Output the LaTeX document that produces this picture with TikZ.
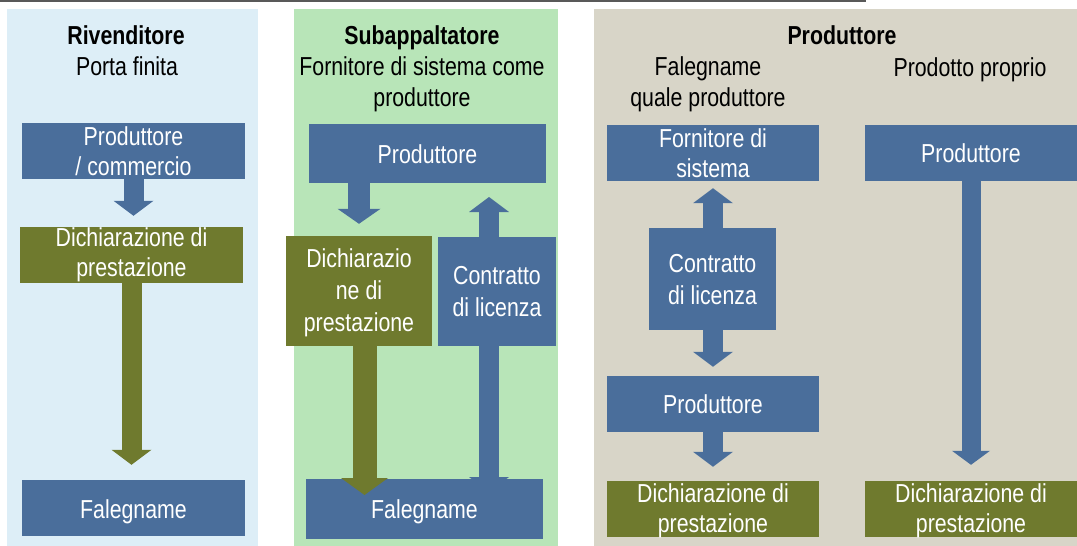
\documentclass[tikz,border=0pt]{standalone}
\usepackage{fontspec}
\setmainfont{Liberation Sans}[FakeStretch=0.82]
\usetikzlibrary{arrows.meta}
\definecolor{boxblue}{HTML}{4A6E9B}
\definecolor{boxolive}{HTML}{6F7A2E}
\definecolor{paneblue}{HTML}{DDEEF7}
\definecolor{panegreen}{HTML}{B8E5B8}
\definecolor{panegrey}{HTML}{D8D5C8}
\pgfdeclarelayer{back}
\pgfsetlayers{back,main}
\tikzset{
    blbox/.style={fill=boxblue, inner sep=0pt},
    olbox/.style={fill=boxolive, inner sep=0pt},
    boxtext/.style={text=white, align=center, anchor=base, inner sep=0pt,
        font=\fontsize{26}{30}\selectfont},
    loosetext/.style={boxtext, font=\fontsize{26}{32}\selectfont},
    head/.style={anchor=base, inner sep=0pt, font=\bfseries\fontsize{26}{30}\selectfont},
    sub/.style={anchor=base, align=center, inner sep=0pt, font=\fontsize{26}{31}\selectfont},
    bigarrow/.style={line width=20pt, -{Triangle[width=40pt,length=15pt,line width=0pt]}},
    bigarrows/.style={line width=20pt, {Triangle[width=40pt,length=15pt,line width=0pt]}-{Triangle[width=40pt,length=15pt,line width=0pt]}},
    widearrow/.style={line width=24pt, -{Triangle[width=47pt,length=17pt,line width=0pt]}}
}
\begin{document}
\begin{tikzpicture}[x=1pt,y=-1pt]
    \useasboundingbox (0,0) rectangle (1077,546);

    % panels
    \begin{pgfonlayer}{back}
        \fill[paneblue] (7,8.5) rectangle (258,546);
        \fill[panegreen] (294,8.5) rectangle (558,546);
        \fill[panegrey] (594,8.5) rectangle (1077,546);
    \end{pgfonlayer}
    \draw[black!65, line width=2pt] (0,1) -- (866,1);

    % titles (multi-line texts sit on their last baseline)
    \node[head] (rivT) at (126,45) {Rivenditore};
    \node[sub] (rivS) at (127,75) {Porta finita};
    \node[head] (subT) at (422,45) {Subappaltatore};
    \node[sub] (subS) at (422,106.5) {Fornitore di sistema come\\produttore};
    \node[head] (proT) at (842,45) {Produttore};
    \node[sub] (proS) at (708,106.5) {Falegname\\quale produttore};
    \node[sub] (proS2) at (970,76) {Prodotto proprio};

    % Rivenditore
    \node[blbox, minimum width=223pt, minimum height=56pt] (prodA) at (133.5,151) {};
    \node[olbox, minimum width=223pt, minimum height=56pt] (declA) at (131.5,255) {};
    \node[blbox, minimum width=223pt, minimum height=56pt] (falA) at (133.5,508) {};
    \node[boxtext] (prodA-t) at (133.5,175) {Produttore\\/ commercio};
    \node[boxtext] (declA-t) at (131.5,276.5) {Dichiarazione di\\prestazione};
    \node[boxtext] (falA-t) at (133.5,518) {Falegname};
    \draw[bigarrow, boxblue, shorten >=11pt] (prodA.south) -- (prodA.south |- declA.north);
    \draw[bigarrow, boxolive, shorten >=15pt] (declA.south) -- (declA.south |- falA.north);

    % Subappaltatore
    \node[blbox, minimum width=237pt, minimum height=59pt] (prodB) at (427.5,153.5) {};
    \node[olbox, minimum width=146pt, minimum height=110pt] (declB) at (359,291) {};
    \node[blbox, minimum width=118pt, minimum height=109pt] (contB) at (497,291.5) {};
    \node[blbox, minimum width=237pt, minimum height=60pt] (falB) at (424.5,509) {};
    \node[boxtext] (prodB-t) at (427.5,163.5) {Produttore};
    \node[loosetext] (declB-t) at (359,331.5) {Dichiarazio\\ne di\\prestazione};
    \node[loosetext] (contB-t) at (497,316) {Contratto\\di licenza};
    \node[boxtext] (falB-t) at (424.5,518) {Falegname};
    \coordinate (licTop) at (489,197);
    \coordinate (licBot) at (489,492);
    \coordinate (declTip) at (364.5,495);
    \begin{pgfonlayer}{back}
        \draw[bigarrows, boxblue] (licBot) -- (licTop);
    \end{pgfonlayer}
    \draw[bigarrow, boxblue, line width=22pt, -{Triangle[width=43pt,length=15pt,line width=0pt]}, shorten >=12pt]
        (declB |- prodB.south) -- (declB.north);
    \draw[widearrow, boxolive] (declB.south -| declTip) -- (declTip);

    % Produttore
    \node[blbox, minimum width=212pt, minimum height=56pt] (fornC) at (713,153) {};
    \node[blbox, minimum width=127pt, minimum height=102pt] (contC) at (712.5,279) {};
    \node[blbox, minimum width=212pt, minimum height=56pt] (prodC) at (713,404) {};
    \node[olbox, minimum width=212pt, minimum height=56pt] (declC) at (713,509) {};
    \node[blbox, minimum width=212pt, minimum height=56pt] (prodR) at (971,153) {};
    \node[olbox, minimum width=212pt, minimum height=56pt] (declR) at (971,509) {};
    \node[boxtext] (fornC-t) at (713,177.3) {Fornitore di\\sistema};
    \node[loosetext] (contC-t) at (712.5,304) {Contratto\\di licenza};
    \node[boxtext] (prodC-t) at (713,413.3) {Produttore};
    \node[boxtext] (declC-t) at (713,532.7) {Dichiarazione di\\prestazione};
    \node[boxtext] (prodR-t) at (971,162.7) {Produttore};
    \node[boxtext] (declR-t) at (971,532.7) {Dichiarazione di\\prestazione};
    \begin{pgfonlayer}{back}
        \draw[bigarrows, boxblue, shorten <=7pt, shorten >=9pt] (fornC.south) -- (prodC.north);
    \end{pgfonlayer}
    \draw[bigarrow, boxblue, shorten >=14pt] (prodC.south) -- (declC.north);
    \draw[bigarrow, boxblue, line width=19pt, -{Triangle[width=38pt,length=14pt,line width=0pt]}, shorten >=16pt]
        (prodR.south) -- (declR.north);
\end{tikzpicture}
\end{document}
